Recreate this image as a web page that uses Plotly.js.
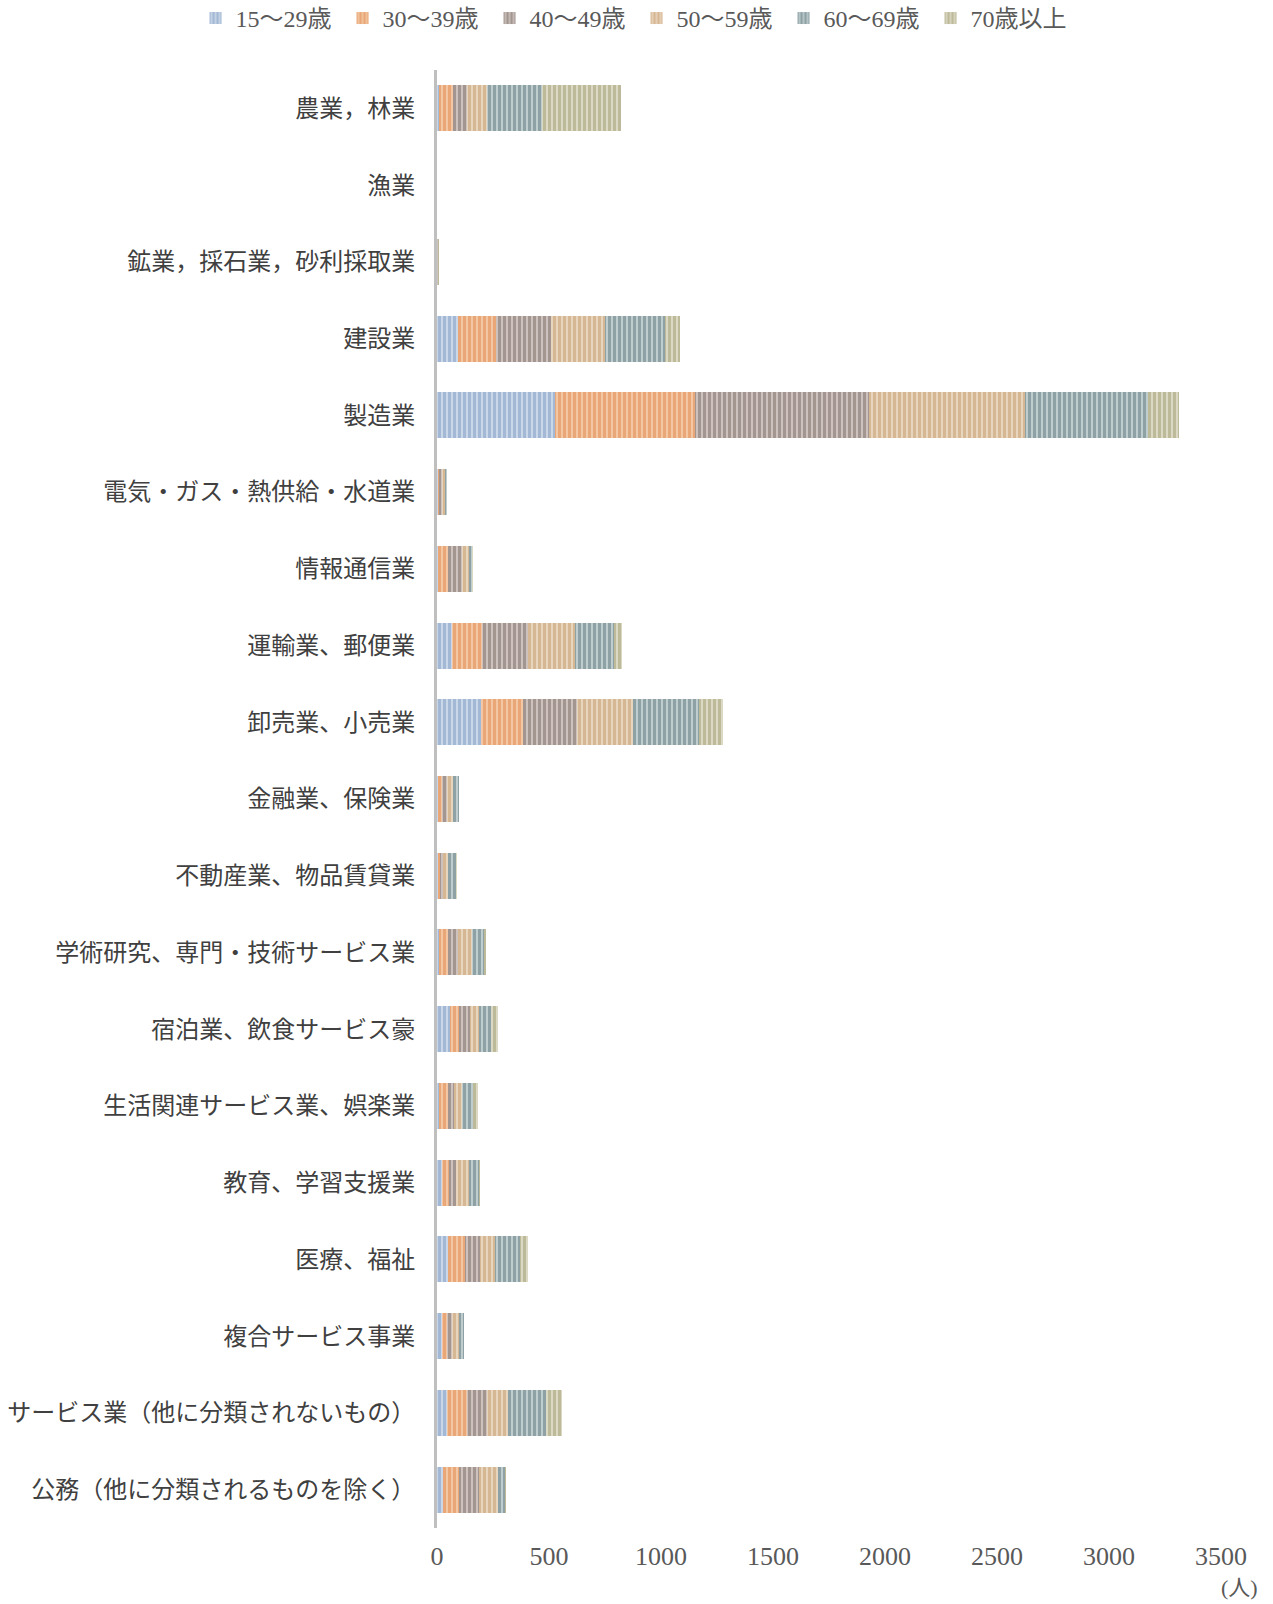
<!DOCTYPE html>
<html>
<head>
<meta charset="utf-8">
<script src="https://cdn.plot.ly/plotly-3.0.1.min.js"></script>
<style>html,body{margin:0;padding:0;background:#fff;}#chart{width:1273px;height:1604px;}</style>
</head>
<body>
<div id="chart"></div>
<script>
const categories = ["農業，林業","漁業","鉱業，採石業，砂利採取業","建設業","製造業","電気・ガス・熱供給・水道業","情報通信業","運輸業、郵便業","卸売業、小売業","金融業、保険業","不動産業、物品賃貸業","学術研究、専門・技術サービス業","宿泊業、飲食サービス豪","生活関連サービス業、娯楽業","教育、学習支援業","医療、福祉","複合サービス事業","サービス業（他に分類されないもの）","公務（他に分類されるものを除く）"];
const seriesNames = ["15～29歳","30～39歳","40～49歳","50～59歳","60～69歳","70歳以上"];
const age15_29 = [10,0,0,95,525,3,5,68,195,4,3,7,60,8,24,49,24,46,27];
const age30_39 = [62,0,1,170,625,6,45,134,189,20,12,42,40,42,30,77,22,86,71];
const age40_49 = [64,0,2,243,780,14,60,205,240,22,12,45,49,27,33,68,22,89,89];
const age50_59 = [87,0,2,241,695,12,33,207,249,25,20,62,37,33,57,63,30,97,85];
const age60_69 = [245,0,1,269,548,8,15,176,298,25,36,54,57,52,45,112,22,167,31];
const age70plus = [354,0,1,66,140,2,2,37,107,4,5,10,30,19,2,37,0,74,4];
const xTicks = [0,500,1000,1500,2000,2500,3000,3500];

const seriesValues = [age15_29, age30_39, age40_49, age50_59, age60_69, age70plus];
const fg = ["#7b9abf","#e0884b","#7a6762","#c49a6a","#5b777c","#a09b72"];
const bg = ["#c9d7e8","#f3c7a3","#cdc2be","#e8d5bd","#c0cdcf","#dbd8c3"];

const font = "'Liberation Serif', 'Noto Sans CJK JP', serif";

const traces = seriesValues.map((vals, i) => ({
  type: "bar",
  orientation: "h",
  name: seriesNames[i],
  y: categories,
  x: vals,
  marker: {
    color: bg[i],
    line: {width: 0},
    pattern: {shape: "|", fgcolor: fg[i], bgcolor: bg[i], size: 5, solidity: 0.6, fillmode: "overlay"}
  },
  hoverinfo: "x+name"
}));

const layout = {
  width: 1273,
  height: 1604,
  barmode: "stack",
  bargap: 0.4,
  paper_bgcolor: "#ffffff",
  plot_bgcolor: "#ffffff",
  margin: {l: 437, r: 52, t: 70, b: 76, autoexpand: false},
  font: {family: font, color: "#404040"},
  showlegend: true,
  legend: {
    orientation: "h",
    xref: "paper", yref: "paper",
    x: -0.308, xanchor: "left",
    y: 1.0508, yanchor: "top",
    font: {size: 24, color: "#595959", family: font},
    itemwidth: 30,
    entrywidth: 102,
    entrywidthmode: "pixels",
    traceorder: "normal"
  },
  xaxis: {
    range: [0, 3500],
    tickvals: xTicks,
    ticktext: xTicks.map(String),
    showgrid: false,
    zeroline: false,
    showline: false,
    ticks: "",
    tickfont: {size: 26, color: "#595959", family: font},
    ticklabelstandoff: 10,
    fixedrange: true
  },
  yaxis: {
    type: "category",
    autorange: "reversed",
    showgrid: false,
    zeroline: false,
    showline: true,
    linecolor: "#bfbfbf",
    linewidth: 3,
    ticks: "",
    tickfont: {size: 24, color: "#404040", family: font},
    ticklabelstandoff: 14,
    fixedrange: true
  },
  annotations: [{
    text: "(人)",
    xref: "paper", yref: "paper",
    x: 1.024, y: -0.0405, xanchor: "center", yanchor: "middle",
    showarrow: false,
    font: {size: 22, color: "#595959", family: font}
  }]
};

Plotly.newPlot("chart", traces, layout, {displayModeBar: false, staticPlot: true});
</script>
</body>
</html>
